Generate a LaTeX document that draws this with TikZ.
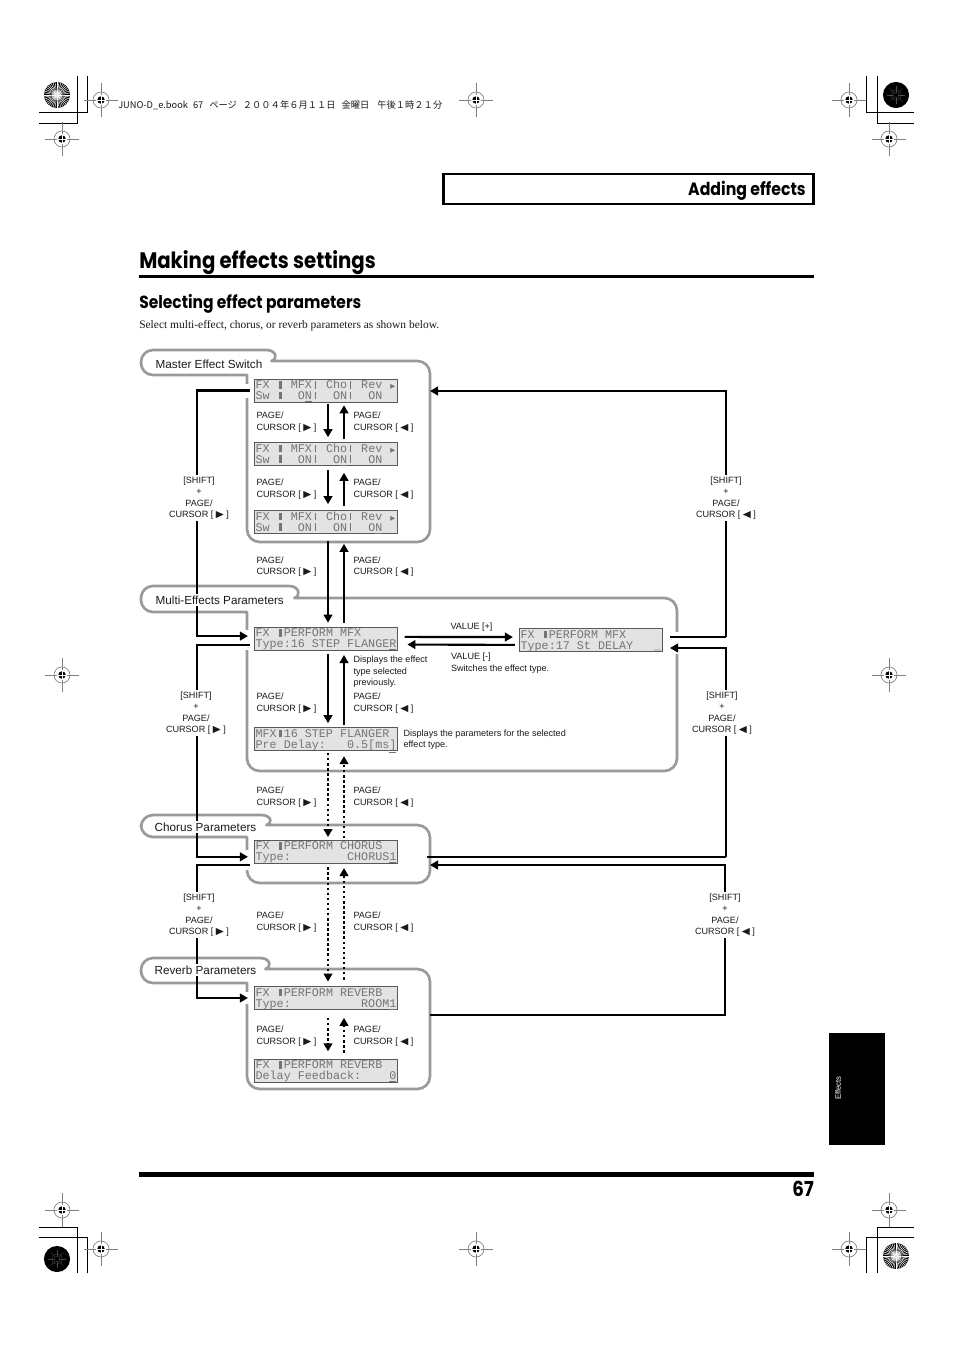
\documentclass[tikz,border=0pt]{standalone}
\usepackage{fontspec}
\usetikzlibrary{arrows.meta}
\setmainfont{Liberation Sans}
\newfontfamily\symf{DejaVu Sans}
\newfontfamily\cjk{Noto Sans CJK JP}
\newfontfamily\headf[FakeStretch=0.88]{Poppins Bold}
\newfontfamily\bodyf{Liberation Serif}
\newfontfamily\lcdf{Liberation Mono}
\newcommand{\RT}{{\symf\scalebox{1.15}[1.05]{▶}}}
\newcommand{\LT}{{\symf\scalebox{1.15}[1.05]{◀}}}
\newcommand{\pgR}{PAGE/\\CURSOR [ \RT\ ]}
\newcommand{\pgL}{PAGE/\\CURSOR [ \LT\ ]}
\newcommand{\shR}{[SHIFT]\\+\\PAGE/\\CURSOR [ \RT\ ]}
\newcommand{\shL}{[SHIFT]\\+\\PAGE/\\CURSOR [ \LT\ ]}
\newcommand{\lk}{\makebox[5.28pt]{\rule[0pt]{2pt}{5.8pt}}}
\newcommand{\br}{\makebox[5.28pt]{\rule[0pt]{0.6pt}{5.8pt}}}
\newcommand{\ra}{\makebox[5.28pt]{\symf\scalebox{0.55}{▶}}}
\newcommand{\un}[1]{\underline{#1}}
\newcommand{\lcdt}[2]{\rule{0pt}{6.6pt}\smash{#1}\\\smash{#2}\rule[-1pt]{0pt}{1pt}}
\newcommand{\lcdfmt}{\lcdf\fontsize{8.8}{7.9}\selectfont\def~{\kern5.28pt}\lineskiplimit=-20pt\relax}
\definecolor{panelgray}{HTML}{9A9A9A}
\definecolor{lcdfill}{HTML}{E3E3E3}
\definecolor{lcdtext}{HTML}{757575}
\definecolor{inkc}{HTML}{1A1A1A}
\tikzset{
  x=0.75pt,y=-0.75pt,
  panelline/.style={draw=panelgray,line width=2pt,line join=round},
  lcd/.style={draw=black!65,line width=0.5pt,fill=lcdfill,text=lcdtext,inner xsep=1pt,inner ysep=0pt,
     text width=105.6pt,align=left,minimum height=17.25pt,
     font=\lcdfmt},
  tablab/.style={anchor=west,fill=white,inner sep=1pt,text=inkc,font=\fontsize{8.8}{10}\selectfont},
  small/.style={text=inkc,inner sep=0.6pt,yshift=-0.75pt,font=\fontsize{6.8}{8.6}\selectfont},
  pglab/.style={small,anchor=west,align=left},
  shlab/.style={small,fill=white,align=center,inner sep=1.5pt},
  conn/.style={draw=black,line width=1.6pt},
  thinconn/.style={draw=black,line width=1pt},
  arr/.style={conn,-{Triangle[length=6pt,width=6.5pt]}},
  dotarr/.style={arr,dash pattern=on 1.9pt off 1.9pt},
  crop/.style={draw=black,line width=0.75pt},
  regline/.style={draw=black!50,line width=0.5pt},
}
\newcommand{\panelpath}[7]{% name, tabtop, tabbot, tabright, maintop, right, bottom
  \draw[panelline,rounded corners=9pt] (#4-11,#2) -- (141,#2) -- (141,#3) [sharp corners] -- (247,#3) [rounded corners=9.5pt] -- (247,#7) -- (#6,#7) -- (#6,#5) -- (#4+7,#5) [sharp corners] .. controls (#4,#5) and (#4+1,#2) .. (#4-11,#2);
}
\newcommand{\regmark}[2]{%
  \draw[regline] (#1-17,#2) -- (#1+17,#2) (#1,#2-17) -- (#1,#2+17);
  \draw[regline] (#1,#2) circle[radius=6pt];
  \fill[black] (#1,#2) circle[radius=2.8pt];
  \draw[white,line width=0.5pt] (#1-5,#2) -- (#1+5,#2) (#1,#2-5) -- (#1,#2+5);
}
\newcommand{\burstlight}[2]{%
  \fill[black] (#1,#2) circle[radius=9.8pt];
  \foreach \a in {0,9,...,351}{\draw[white,line width=0.35pt] (#1,#2) ++(\a:1pt) -- ++(\a:8.8pt);}
  \draw[black!70,line width=0.35pt] (#1,#2) circle[radius=4.5pt];
  \fill[white] (#1,#2) circle[radius=1pt];
}
\newcommand{\burstdark}[2]{%
  \fill[black] (#1,#2) circle[radius=9.8pt];
  \draw[black!70,line width=0.25pt] (#1,#2) circle[radius=2pt] circle[radius=4pt];
  \foreach \a in {0,45,...,315}{\draw[black!70,line width=0.25pt] (#1,#2) ++(\a:2pt) -- ++(\a:5pt);}
}
\begin{document}
\begin{tikzpicture}
\useasboundingbox (0,0) rectangle (954,1351);
\fill[white] (0,0) rectangle (954,1351);

% printer's marks
\burstlight{57}{95}
\burstdark{896}{95}
\burstdark{57}{1259}
\burstlight{896}{1256}
\draw[crop] (77,76) -- (77,124) -- (39,124) (87,76) -- (87,113) -- (39,113);
\draw[crop] (866,76) -- (866,113) -- (914,113) (877,76) -- (877,124) -- (914,124);
\draw[crop] (77,1273) -- (77,1227) -- (39,1227) (87,1273) -- (87,1237) -- (39,1237);
\draw[crop] (866,1273) -- (866,1237) -- (914,1237) (877,1273) -- (877,1227) -- (914,1227);
\regmark{101}{100}\regmark{62}{139}\regmark{476}{100}\regmark{849}{100}\regmark{889}{139}
\regmark{62}{675}\regmark{889}{675}
\regmark{62}{1210}\regmark{889}{1210}\regmark{101}{1249}\regmark{476}{1249}\regmark{849}{1249}
\node[anchor=west,inner sep=0pt,text=inkc,font=\cjk\fontsize{6.95}{8}\selectfont] (slug) at (118,105) {JUNO-D\_e.book\hspace{3.75pt}67\hspace{4.5pt}ページ\hspace{4.5pt}２００４年６月１１日\hspace{4.5pt}金曜日\hspace{6pt}午後１時２１分};

% page furniture
\node[draw=black,line width=1.6pt,minimum width=277.5pt,minimum height=22pt,inner sep=0pt] (hdr) at (628.5,189) {};
\node[anchor=east,inner sep=0pt,font=\headf\fontsize{13.4}{15}\selectfont] (hdrt) at (806,190.5) {Adding effects};
\node[anchor=west,inner sep=0pt,font=\headf\fontsize{16.8}{20}\selectfont] (title) at (139,262.5) {Making effects settings};
\fill[black] (139,275) rectangle (814,278);
\node[anchor=west,inner sep=0pt,font=\headf\fontsize{13.2}{15}\selectfont] (sub) at (139,303.5) {Selecting effect parameters};
\node[anchor=west,inner sep=0pt,text=inkc,font=\bodyf\fontsize{8.6}{9}\selectfont] (intro) at (139,326) {Select multi-effect, chorus, or reverb parameters as shown below.};
\fill[black] (139,1172) rectangle (814,1177);
\node[anchor=east,inner sep=0pt,font=\headf\fontsize{15.5}{17}\selectfont] (pgno) at (814,1189) {67};
\fill[black] (829,1033) rectangle (885,1145);
\node[rotate=90,text=white,inner sep=0pt,font=\fontsize{5.8}{7}\selectfont] (tabt) at (838,1088) {Effects};

% panels
\panelpath{p1}{350}{375}{277}{361}{430}{542}
\panelpath{p2}{586}{612}{300}{598}{677}{771}
\panelpath{p3}{815}{837}{272}{825}{430}{883}
\panelpath{p4}{958}{983}{271}{969}{430}{1089}
% gaps in the panel outline where connectors enter
\fill[white] (244,384) rectangle (250,398);
\fill[white] (244,630) rectangle (250,650);
\fill[white] (244,850) rectangle (250,870);
\fill[white] (244,992) rectangle (250,1004);
\fill[white] (674,632) rectangle (680,654);

% LCD screens
\node[lcd] (lcda) at (326,390.5) {\lcdt{FX~\lk~MFX\br~Cho\br~Rev~\ra}{Sw~\lk~~O\un{N}\br~~ON\br~~ON}};
\node[lcd] (lcdb) at (326,454) {\lcdt{FX~\lk~MFX\br~Cho\br~Rev~\ra}{Sw~\lk~~ON\br~~O\un{N}\br~~ON}};
\node[lcd] (lcdc) at (326,522) {\lcdt{FX~\lk~MFX\br~Cho\br~Rev~\ra}{Sw~\lk~~ON\br~~ON\br~~O\un{N}}};
\node[lcd] (lcdd) at (326,638.5) {\lcdt{FX~\lk PERFORM~MFX}{Type:16~STEP~FLANGE\un{R}}};
\node[lcd] (lcde) at (326,739) {\lcdt{MFX\lk 16~STEP~FLANGER}{Pre~Delay:~~~0.5[ms\un{]}}};
\node[lcd] (lcdf) at (591,640) {\lcdt{FX~\lk PERFORM~MFX}{Type:17~St~DELAY~~~\_}};
\node[lcd] (lcdg) at (326,851.5) {\lcdt{FX~\lk PERFORM~CHORUS}{Type:~~~~~~~~CHORUS\un{1}}};
\node[lcd] (lcdh) at (326,998) {\lcdt{FX~\lk PERFORM~REVERB}{Type:~~~~~~~~~~ROOM\un{1}}};
\node[lcd] (lcdi) at (326,1070.5) {\lcdt{FX~\lk PERFORM~REVERB}{Delay~Feedback:~~~~\un{0}}};

\coordinate (xd) at (328,0);
\coordinate (xu) at (344,0);
\coordinate (xl) at (197,0);
\coordinate (xra) at (726,0);
\coordinate (xrb) at (725,0);

% vertical navigation
\draw[arr,shorten <=1pt,shorten >=3.7pt] (lcda.south -| xd) -- (lcdb.north -| xd);
\draw[arr,shorten <=2.2pt,shorten >=2.2pt] (lcdb.north -| xu) -- (lcda.south -| xu);
\draw[arr,shorten <=3pt,shorten >=4.5pt] (lcdb.south -| xd) -- (lcdc.north -| xd);
\draw[arr,shorten <=3pt,shorten >=5.2pt] (lcdc.north -| xu) -- (lcdb.south -| xu);
\draw[arr,shorten <=5.5pt,shorten >=3pt] (lcdc.south -| xd) -- (lcdd.north -| xd);
\draw[arr,shorten <=3pt,shorten >=7.5pt] (lcdd.north -| xu) -- (lcdc.south -| xu);
\draw[arr,shorten <=2.5pt,shorten >=3pt] (lcdd.south -| xd) -- (lcde.north -| xd);
\draw[arr,shorten <=1.5pt,shorten >=3.5pt] (lcde.north -| xu) -- (lcdd.south -| xu);
\draw[dotarr,shorten <=1.5pt,shorten >=2pt] (lcde.south -| xd) -- (lcdg.north -| xd);
\draw[dotarr,shorten <=1pt,shorten >=4pt] (lcdg.north -| xu) -- (lcde.south -| xu);
\draw[dotarr,shorten <=3pt,shorten >=3.5pt] (lcdg.south -| xd) -- (lcdh.north -| xd);
\draw[dotarr,shorten <=5pt,shorten >=3.5pt] (lcdh.north -| xu) -- (lcdg.south -| xu);
\draw[dotarr,shorten <=6pt,shorten >=5.5pt] (lcdh.south -| xd) -- (lcdi.north -| xd);
\draw[dotarr,shorten <=4.5pt,shorten >=6pt] (lcdi.north -| xu) -- (lcdh.south -| xu);

% value arrows
\draw[arr,shorten <=5pt,shorten >=4.5pt] ([yshift=1.2pt]lcdd.east) -- ([yshift=2.2pt]lcdf.west);
\draw[arr,shorten <=3pt,shorten >=7pt] ([yshift=-3.7pt]lcdf.west) -- ([yshift=-4.5pt]lcdd.east);

% left-hand shift connectors
\draw[arr,shorten <=3pt,shorten >=4.5pt] (lcda.west) -- (lcda.west -| xl) |- ([yshift=1.8pt]lcdd.west);
\draw[arr,shorten <=3pt,shorten >=4.5pt] ([yshift=-4.7pt]lcdd.west) -- ([yshift=-4.7pt]lcdd.west -| xl) |- ([yshift=-4pt]lcdg.west);
\draw[arr,shorten <=3pt,shorten >=4.5pt] ([yshift=-10pt]lcdg.west) -- ([yshift=-10pt]lcdg.west -| xl) |- (lcdh.west);

% right-hand shift connectors
\coordinate (ra) at (670,637);
\coordinate (rat) at (430,391);
\coordinate (rb) at (427,857);
\coordinate (rbt) at (670,648);
\coordinate (rc) at (430,1015);
\coordinate (rct) at (430,865);
\draw[thinconn] (ra) -- (ra -| xra);
\draw[arr] (ra -| xra) |- (rat);
\draw[thinconn] (rb) -- (rb -| xra);
\draw[arr] (rb -| xra) |- (rbt);
\draw[arr] (rc) -| (xrb |- rct) -- (rct);

% labels
\node[tablab] (ta) at (154,364) {Master Effect Switch};
\node[tablab] (tb) at (154,600) {Multi-Effects Parameters};
\node[tablab] (tc) at (153,827) {Chorus Parameters};
\node[tablab] (td) at (153,970) {Reverb Parameters};

\node[pglab] (a1) at (255.5,421) {\pgR};
\node[pglab] (a2) at (352.5,421) {\pgL};
\node[pglab] (b1) at (255.5,488) {\pgR};
\node[pglab] (b2) at (352.5,488) {\pgL};
\node[pglab] (c1) at (255.5,565.5) {\pgR};
\node[pglab] (c2) at (352.5,565.5) {\pgL};
\node[pglab] (d1) at (255.5,702) {\pgR};
\node[pglab] (d2) at (352.5,702) {\pgL};
\node[pglab] (e1) at (255.5,796) {\pgR};
\node[pglab] (e2) at (352.5,796) {\pgL};
\node[pglab] (f1) at (255.5,921) {\pgR};
\node[pglab] (f2) at (352.5,921) {\pgL};
\node[pglab] (g1) at (255.5,1035) {\pgR};
\node[pglab] (g2) at (352.5,1035) {\pgL};

\node[shlab] (s1) at (199,497) {\shR};
\node[shlab] (s2) at (196,712) {\shR};
\node[shlab] (s3) at (199,914) {\shR};
\node[shlab] (s4) at (726,497) {\shL};
\node[shlab] (s5) at (722,712) {\shL};
\node[shlab] (s6) at (725,914) {\shL};

\node[small,anchor=west] (v1) at (449.5,626) {VALUE [+]};
\node[small,anchor=west,align=left] (v2) at (450,662) {VALUE [-]\\Switches the effect type.};
\node[small,anchor=west,align=left] (n1) at (352.5,671) {Displays the effect\\type selected\\previously.};
\node[small,anchor=west,align=left] (n2) at (402.5,738.5) {Displays the parameters for the selected\\effect type.};
\end{tikzpicture}
\end{document}
